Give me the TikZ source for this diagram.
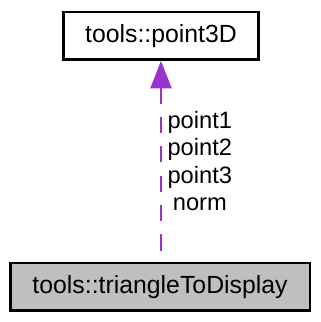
\documentclass[tikz,border=0pt]{standalone}
\usepackage{fontspec}
\setmainfont{Liberation Sans}
\usetikzlibrary{arrows.meta}
\definecolor{depcol}{HTML}{9A32CD}
\definecolor{graybox}{HTML}{BFBFBF}
\tikzset{
  classbox/.style={draw=black, line width=2.5pt, inner sep=0pt, minimum height=50pt,
    font=\fontsize{26.2}{30}\selectfont},
  deplink/.style={draw=depcol, line width=3pt, dash pattern=on 17pt off 14pt,
    {Triangle[length=29pt,width=22pt,fill=depcol]}-},
  deplabel/.style={align=center, inner sep=0pt, font=\fontsize{25}{29}\selectfont}
}
\begin{document}
\begin{tikzpicture}[x=1pt,y=-1pt]
\useasboundingbox (0,0) rectangle (338,340);
\node[classbox, minimum width=206pt] (p3d) at (170,38) {tools::point3D};
\node[classbox, minimum width=316pt, fill=graybox] (tri) at (169,303) {tools::triangleToDisplay};
\draw[deplink] (p3d.south) -- (p3d.south |- tri.north);
\node[deplabel] (lab) at (211,170) {point1\\point2\\point3\\norm};
\end{tikzpicture}
\end{document}
